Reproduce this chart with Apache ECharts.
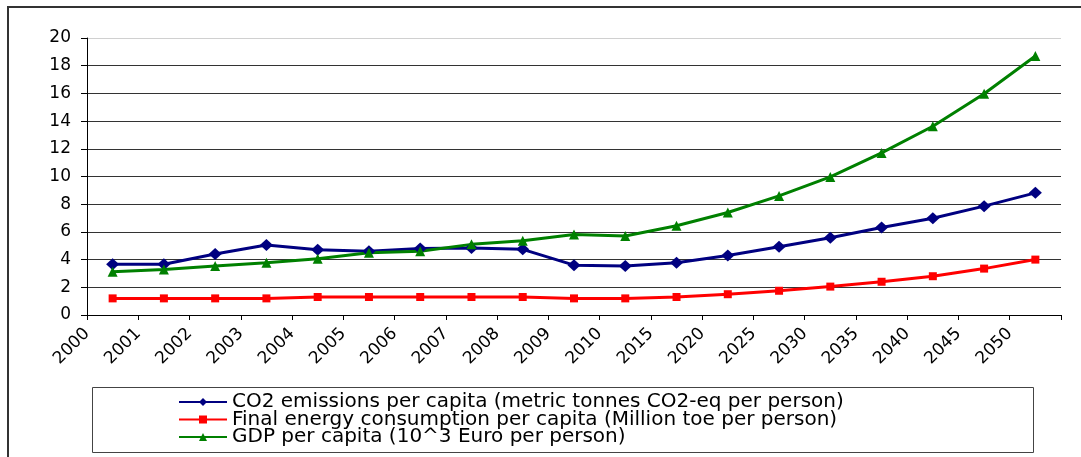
<!DOCTYPE html>
<html>
<head>
<meta charset="utf-8">
<script src="https://cdn.jsdelivr.net/npm/echarts@6/dist/echarts.min.js"></script>
<style>
html,body{margin:0;padding:0;background:#fff;}
#chart{width:1081px;height:457px;}
</style>
</head>
<body>
<div id="chart"></div>
<script>
var categories = ['2000','2001','2002','2003','2004','2005','2006','2007','2008','2009','2010','2015','2020','2025','2030','2035','2040','2045','2050'];
var co2 = [3.66,3.66,4.40,5.05,4.71,4.61,4.81,4.83,4.74,3.60,3.53,3.77,4.30,4.93,5.58,6.32,6.99,7.86,8.82];
var energy = [1.2,1.2,1.2,1.2,1.3,1.3,1.3,1.3,1.3,1.2,1.2,1.3,1.5,1.75,2.05,2.4,2.8,3.35,4.0];
var gdp = [3.12,3.29,3.53,3.77,4.06,4.49,4.61,5.10,5.36,5.82,5.70,6.44,7.40,8.60,9.97,11.70,13.63,15.98,18.70];
var seriesNames = [
  'CO2 emissions per capita (metric tonnes CO2-eq per person)',
  'Final energy consumption per capita (Million toe per person)',
  'GDP per capita (10^3 Euro per person)'
];
var yTicks = {min:0, max:20, interval:2};

var FONT = 'DejaVu Sans';
var chart = echarts.init(document.getElementById('chart'), null, {renderer:'canvas'});
var splitColors = [];
for (var i = yTicks.min; i <= yTicks.max; i += yTicks.interval) {
  splitColors.push(i === yTicks.max ? '#d0d0d0' : '#333333');
}
chart.setOption({
  animation: false,
  backgroundColor: '#ffffff',
  textStyle: {fontFamily: FONT},
  grid: {left: 87, right: 20, top: 38, bottom: 142},
  graphic: [
    {type:'rect', shape:{x:8, y:7, width:1100, height:500}, style:{fill:'none', stroke:'#333', lineWidth:2}, silent:true, z:-1},
    {type:'rect', shape:{x:92.5, y:387.5, width:941, height:65}, style:{fill:'#fff', stroke:'#444', lineWidth:1}, silent:true, z:-1}
  ],
  legend: {
    orient: 'vertical',
    left: 178,
    top: 392,
    padding: 0,
    itemWidth: 48,
    itemHeight: 10,
    itemGap: -2.5,
    textStyle: {fontFamily: FONT, fontSize: 20, color:'#000', lineHeight: 17.5},
    data: seriesNames
  },
  xAxis: [
    {
      type: 'category',
      data: categories,
      boundaryGap: true,
      axisLine: {lineStyle: {color:'#000', width:1}},
      axisTick: {show:true, interval:0, length:5, lineStyle:{color:'#000'}},
      axisLabel: {show:false},
      splitLine: {show:false}
    },
    {
      type: 'category',
      position: 'bottom',
      offset: 0,
      data: categories.concat(['']),
      boundaryGap: false,
      axisLine: {show:false},
      axisTick: {show:false},
      axisLabel: {show:true, interval:0, rotate:45, margin:16, fontSize:17, fontFamily:FONT, color:'#000'},
      splitLine: {show:false}
    }
  ],
  yAxis: {
    type: 'value',
    min: yTicks.min, max: yTicks.max, interval: yTicks.interval,
    axisLine: {show:true, lineStyle:{color:'#000', width:1}},
    axisTick: {show:true, length:6, lineStyle:{color:'#000'}},
    axisLabel: {fontSize:17, fontFamily:FONT, color:'#000', margin:16},
    splitLine: {show:true, lineStyle:{color:splitColors, width:1}}
  },
  series: [
    {name: seriesNames[0], type:'line', data: co2, xAxisIndex:0, symbol:'diamond', symbolSize:[13,12], lineStyle:{color:'#000080', width:3}, itemStyle:{color:'#000080'}},
    {name: seriesNames[1], type:'line', data: energy, xAxisIndex:0, symbol:'rect', symbolSize:8, lineStyle:{color:'#ff0000', width:3}, itemStyle:{color:'#ff0000'}},
    {name: seriesNames[2], type:'line', data: gdp, xAxisIndex:0, symbol:'triangle', symbolSize:10, lineStyle:{color:'#008000', width:3}, itemStyle:{color:'#008000'}}
  ]
});
</script>
</body>
</html>
